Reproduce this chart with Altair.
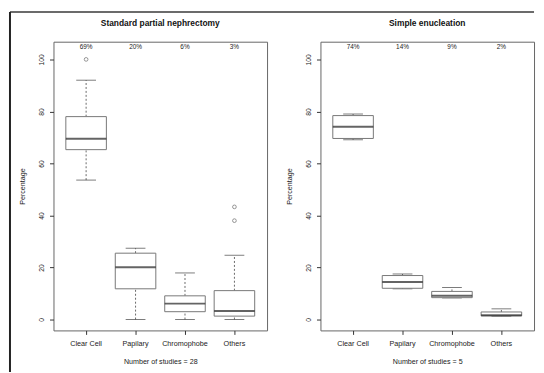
import altair as alt
import pandas as pd

categories = ["Clear Cell", "Papilary", "Chromophobe", "Others"]

# Standard partial nephrectomy
spn_low = [53.6, 0.0, 0.0, 0.0]
spn_q1 = [65.3, 11.8, 3.0, 1.3]
spn_med = [69.5, 20.1, 6.1, 3.3]
spn_q3 = [78.0, 25.5, 9.1, 11.1]
spn_high = [92.0, 27.4, 17.9, 24.7]
spn_out_cat = ["Clear Cell", "Others", "Others"]
spn_out_val = [100.0, 43.3, 38.0]
spn_pct = ["69%", "20%", "6%", "3%"]

# Simple enucleation
se_low = [69.1, 11.8, 8.3, 1.3]
se_q1 = [69.6, 12.0, 8.4, 1.4]
se_med = [74.1, 14.4, 9.1, 1.6]
se_q3 = [78.4, 16.9, 10.8, 2.9]
se_high = [79.0, 17.5, 12.3, 4.1]
se_out_cat = []
se_out_val = []
se_pct = ["74%", "14%", "9%", "2%"]

y_ticks = [0, 20, 40, 60, 80, 100]
FONT = "Liberation Sans"


def panel(title, xtitle, low, q1, med, q3, high, out_cat, out_val, pct, frame=False):
    df = pd.DataFrame({"cat": categories, "low": low, "q1": q1, "med": med,
                       "q3": q3, "high": high, "pct": pct})
    x = alt.X("cat:N", sort=categories,
              scale=alt.Scale(domain=categories, paddingInner=0, paddingOuter=0.16),
              axis=alt.Axis(title=xtitle, labelAngle=0, labelFontSize=7.3,
                            labelPadding=5, titleFontSize=7.2, titlePadding=11,
                            titleFontWeight="normal"))
    yscale = alt.Scale(domain=[-4.2, 106.8], nice=False, zero=False)
    y_axis = alt.Axis(title="Percentage", values=y_ticks, labelAngle=-90,
                      labelFontSize=6.8, labelPadding=5, titleFontSize=7.2,
                      titleFontWeight="normal", titlePadding=12)
    base = alt.Chart(df)
    w_up = base.mark_rule(color="#444", strokeWidth=0.8, strokeDash=[2, 2]).encode(
        x=x, y=alt.Y("q3:Q", scale=yscale, axis=y_axis), y2="high:Q")
    w_lo = base.mark_rule(color="#444", strokeWidth=0.8, strokeDash=[2, 2]).encode(
        x=x, y=alt.Y("low:Q", scale=yscale), y2="q1:Q")
    cap_hi = base.mark_tick(color="#444", size=20, thickness=1).encode(
        x=x, y=alt.Y("high:Q", scale=yscale))
    cap_lo = base.mark_tick(color="#444", size=20, thickness=1).encode(
        x=x, y=alt.Y("low:Q", scale=yscale))
    box = base.mark_bar(fill="white", stroke="#777", strokeWidth=1,
                        width=alt.RelativeBandSize(0.82)).encode(
        x=x, y=alt.Y("q1:Q", scale=yscale), y2="q3:Q")
    median = base.mark_tick(color="#222", size=41, thickness=2).encode(
        x=x, y=alt.Y("med:Q", scale=yscale))
    labels = base.mark_text(fontSize=6.5, color="#222", font=FONT, baseline="middle").encode(
        x=x, y=alt.datum(104.9, scale=yscale), text="pct:N")
    layers = [w_up, w_lo, cap_hi, cap_lo, box, median, labels]
    if out_cat:
        odf = pd.DataFrame({"cat": out_cat, "val": out_val})
        outs = alt.Chart(odf).mark_point(shape="circle", filled=False, size=14,
                                         color="#444", strokeWidth=0.8).encode(
            x=x, y=alt.Y("val:Q", scale=yscale))
        layers.append(outs)
    offset = 14
    if frame:
        one = pd.DataFrame({"a": [0]})
        top_line = alt.Chart(one).mark_rule(color="#6b6b6b", strokeWidth=2).encode(
            x=alt.value(-44), x2=alt.value(486), y=alt.value(-30))
        left_line = alt.Chart(one).mark_rule(color="#222", strokeWidth=2).encode(
            x=alt.value(-44), y=alt.value(-30), y2=alt.value(334))
        layers += [top_line, left_line]
        offset = -17
    return alt.layer(*layers).properties(
        width=216, height=292, title=alt.Title(title, offset=offset))


left = panel("Standard partial nephrectomy", "Number of studies = 28",
             spn_low, spn_q1, spn_med, spn_q3, spn_high, spn_out_cat, spn_out_val, spn_pct,
             frame=True)
right = panel("Simple enucleation", "Number of studies = 5",
              se_low, se_q1, se_med, se_q3, se_high, se_out_cat, se_out_val, se_pct)

chart = alt.hconcat(left, right, spacing=54, bounds="flush", padding=0).configure(
    font=FONT
).configure_view(
    stroke="#666", strokeWidth=1
).configure_axis(
    domain=False, grid=False, tickColor="#333", tickSize=4,
    labelColor="#222", titleColor="#222", labelFont=FONT, titleFont=FONT
).configure_title(
    fontSize=8.5, fontWeight="bold", font=FONT, anchor="middle", color="#111"
)

chart.save("out.html", embed_options={"renderer": "svg", "actions": False})
